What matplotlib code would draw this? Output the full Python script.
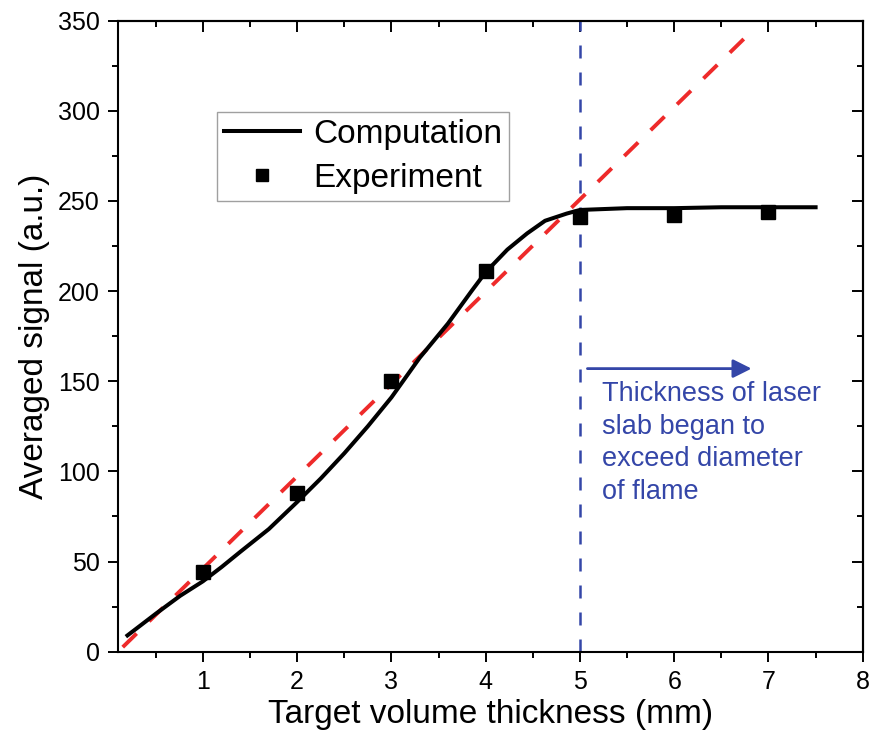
import numpy as np
import matplotlib
matplotlib.use("Agg")
import matplotlib.pyplot as plt

plt.rcParams['font.family'] = ['Liberation Sans', 'DejaVu Sans']

# computed signal vs. target volume thickness
comp_x = [0.2, 0.5, 0.76, 1.0, 1.2, 1.4, 1.7, 2.0, 2.25, 2.5, 2.75, 3.0, 3.3, 3.6,
          3.85, 4.0, 4.23, 4.44, 4.63, 4.86, 5.0, 5.5, 6.0, 6.5, 7.0, 7.5]
comp_y = [9, 21, 31, 39, 47, 55.5, 68, 83, 96, 110, 125, 141, 163, 182,
          200, 210.5, 223, 232, 239, 243, 245, 246, 246, 246.5, 246.5, 246.5]

# measured points
exp_x = [1, 2, 3, 4, 5, 6, 7]
exp_y = [44, 88, 150, 211, 241, 242, 244]

# linear reference
lin_x = [0.15, 6.8]
lin_y = [2.5, 343]

cutoff_x = 5
note = "Thickness of laser\nslab began to\nexceed diameter\nof flame"
blue = '#3446a8'

fig = plt.figure(figsize=(8.71, 7.38), dpi=100)
ax = fig.add_axes([0.1355, 0.117, 0.855, 0.855])

ax.plot(lin_x, lin_y, color='#ee2a2a', lw=2.8, dashes=(5, 4.5), zorder=2)
ax.axvline(cutoff_x, color=blue, lw=1.8, dashes=(5.2, 5.6), zorder=1)
ax.plot(comp_x, comp_y, color='black', lw=2.9, label='Computation', zorder=3)
ax.plot(exp_x, exp_y, 's', color='black', ms=10, label='Experiment', zorder=4)

ax.annotate('', xy=(6.85, 157), xytext=(5.05, 157),
            arrowprops=dict(arrowstyle='-|>', color=blue, lw=2, mutation_scale=28))
ax.text(5.23, 150, note, color=blue, fontsize=19.5, va='top', ha='left', linespacing=1.33)

ax.set_xlim(0.1, 8)
ax.set_ylim(0, 350)
ax.set_xticks(range(1, 9))
ax.set_yticks(range(0, 351, 50))
ax.set_xticks(np.arange(0.5, 8.01, 0.5), minor=True)
ax.set_yticks(range(0, 351, 25), minor=True)

ax.set_xlabel('Target volume thickness (mm)', fontsize=24, labelpad=4)
ax.set_ylabel('Averaged signal (a.u.)', fontsize=24, labelpad=6)

for s in ax.spines.values():
    s.set_linewidth(1.5)
ax.tick_params(which='major', direction='out', length=7, width=1.4, labelsize=18, pad=6)
ax.tick_params(which='minor', direction='out', length=4, width=1.4)

# inward ticks on the top and right edges
top = ax.secondary_xaxis('top')
top.set_xticks(range(1, 9))
top.set_xticks(np.arange(0.5, 8.01, 0.5), minor=True)
top.tick_params(which='major', direction='in', length=8, width=1.4, labeltop=False)
top.tick_params(which='minor', direction='in', length=4, width=1.4)
right = ax.secondary_yaxis('right')
right.set_yticks(range(0, 351, 50))
right.set_yticks(range(0, 351, 25), minor=True)
right.tick_params(which='major', direction='in', length=8, width=1.4, labelright=False)
right.tick_params(which='minor', direction='in', length=4, width=1.4)
for sec in (top, right):
    for s in sec.spines.values():
        s.set_linewidth(1.5)

leg = ax.legend(loc='upper left', bbox_to_anchor=(0.133, 0.855), borderaxespad=0,
                fontsize=24, frameon=True, fancybox=False, handlelength=2.3,
                handletextpad=0.4, borderpad=0.2, labelspacing=0.4, markerscale=0.85)
leg.get_frame().set_edgecolor('#888888')
leg.get_frame().set_linewidth(1.0)

fig.savefig('out.png', dpi=100)
